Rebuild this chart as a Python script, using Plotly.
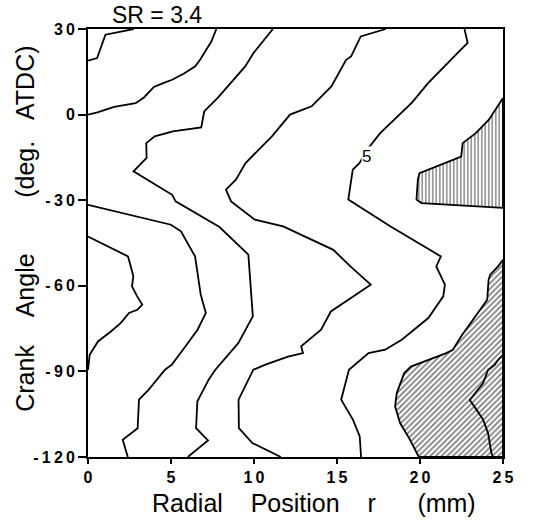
import plotly.graph_objects as go

# ---- data (r in mm, crank angle in deg ATDC) ----
c1_r = [0, 0.55, 1.05, 1.85, 2.75]
c1_a = [18.9, 19.8, 28, 28.9, 30]

c2_r = [0, 0.57, 1.57, 2.87, 3.37, 3.97, 4.57, 5.07, 5.76, 6.46, 6.75, 7.14, 7.44, 7.73]
c2_a = [0, 0.8, 2.7, 4.0, 6.0, 9.7, 11.1, 12.2, 14.3, 16.9, 19.2, 22.7, 25.7, 30]

c3_r = [11.14, 10.56, 9.97, 9.47, 8.59, 7.80, 7.0, 6.82, 5.11, 4.02, 3.51, 3.53, 2.74,
        5.07, 5.28, 7.92, 9.66, 9.93, 9.05, 7.66, 7.27, 6.59, 6.51, 7.23, 6.01]
c3_a = [30, 25.7, 21.6, 16.9, 11.1, 5.8, 1.1, -4.5, -5.9, -7.6, -10.0, -15.2, -19.9,
        -28.1, -30.4, -39.4, -49.1, -70.7, -80.1, -89.5, -92.9, -100.5, -109.9, -114.2, -120]

c4_r = [17.94, 16.43, 15.85, 15.55, 14.66, 13.47, 12.17, 11.08, 10.48, 9.49, 8.91,
        8.31, 8.62, 10.05, 11.76, 14.78, 15.81, 17.03, 16.13, 14.63, 14.04, 12.84,
        12.95, 12.05, 10.65, 9.96, 9.07, 9.09, 9.9, 11.62]
c4_a = [30, 27.4, 20.4, 19.2, 9.9, 2.9, 0, -7.6, -11.1, -17.0, -22.8,
        -26.3, -30.4, -36.8, -39.2, -47.4, -53.2, -59.6, -63.1, -69.0, -75.4, -81.2,
        -83.6, -84.8, -87.7, -89.4, -99.9, -109.9, -115.1, -120]

c5_r = [22.68, 22.87, 22.27, 21.87, 20.5, 19.5, 18.0, 17.6, 16.9, 16.35, 15.95, 15.85,
        15.68, 18.23, 21.26, 20.98, 21.5, 21.4, 20.5, 18.9, 17.9,
        16.9, 15.72, 15.25, 15.96, 16.37, 16.45]
c5_a = [30, 25.1, 21.6, 19.2, 11.1, 4.1, -4.1, -6.5, -11.7, -17.0, -19.3, -22.8,
        -29.8, -39.2, -49.7, -53.2, -59.6, -63.7, -71.3, -78.9, -82.4,
        -83.6, -89.4, -99.9, -106.9, -112.8, -120]

cl1_r = [0, 5.0, 5.6, 6.45, 6.57, 6.79, 7.1, 6.6, 5.72, 5.04, 4.64, 3.66, 3.07, 2.99, 2.09, 2.4]
cl1_a = [-31.6, -38.6, -40.9, -49.7, -54.4, -63.1, -69.5, -75.4, -82.4, -87.7, -89.4,
         -96.4, -99.9, -109.9, -114, -120]

cl2_r = [0, 2.41, 2.63, 2.73, 2.65, 2.96, 3.27, 2.97, 2.47, 1.98, 1.38, 0.6, 0.1, 0]
cl2_a = [-42.7, -49.7, -54.4, -56.7, -60.2, -63.7, -66.6, -68.4, -69.5, -73.0, -76.0,
         -79.5, -84.2, -89.5]

h1_r = [25, 24.15, 23.36, 22.57, 22.48, 20.57, 19.97, 19.87, 19.79, 20.09, 25]
h1_a = [5.8, -1.8, -6.5, -10.0, -14.7, -19.3, -20.5, -22.8, -29.8, -31.0, -32.7]

h2_r = [25, 24.7, 24.23, 24.13, 24.05, 22.88, 22.48, 21.98, 21.58, 19.45, 19.05,
        18.6, 18.5, 18.8, 19.4, 19.93]
h2_a = [-50.9, -53.2, -56.1, -57.9, -64.9, -74.2, -77.7, -82.4, -83.6, -88.3, -90.6,
        -97.6, -102.3, -108.1, -114.0, -120]

h3_r = [25, 24.7, 24.5, 24.1, 23.8, 23.0, 23.4, 23.8, 24.1, 24.3, 24.4]
h3_a = [-84.2, -86.0, -87.7, -89.5, -94.1, -100, -103.4, -106.9, -111.6, -118.6, -120]

label_r, label_a, label_text = 16.75, -14.6, "5"

x_ticks = [0, 5, 10, 15, 20, 25]
y_ticks = [30, 0, -30, -60, -90, -120]
R_MIN, R_MAX = 0, 25
A_MIN, A_MAX = -120, 30

TS = "\u2009"  # thin space used as letter spacing for tick labels
NB = "\u00a0"


def spaced(v):
    return TS.join(str(v))


fig = go.Figure()

LINE = dict(color="black", width=1.8)

# hatched regions
fig.add_trace(go.Scatter(
    x=h1_r + [h1_r[0]], y=h1_a + [h1_a[0]], mode="lines", fill="toself",
    fillcolor="white", line=LINE,
    fillpattern=dict(shape="|", fgcolor="black", bgcolor="white", size=3.5, solidity=0.4),
    hoverinfo="skip", showlegend=False))
fig.add_trace(go.Scatter(
    x=h2_r + [R_MAX, R_MAX], y=h2_a + [A_MIN, h2_a[0]], mode="lines", fill="toself",
    fillcolor="white", line=LINE,
    fillpattern=dict(shape="/", fgcolor="black", bgcolor="white", size=4, solidity=0.45),
    hoverinfo="skip", showlegend=False))

for xs, ys in [(c1_r, c1_a), (c2_r, c2_a), (c3_r, c3_a), (c4_r, c4_a), (c5_r, c5_a),
               (cl1_r, cl1_a), (cl2_r, cl2_a), (h3_r, h3_a)]:
    fig.add_trace(go.Scatter(x=xs, y=ys, mode="lines", line=LINE,
                             hoverinfo="skip", showlegend=False))

FONT = "Liberation Sans"
fig.add_annotation(x=label_r, y=label_a, text=label_text, showarrow=False,
                   font=dict(size=17, color="black", family=FONT),
                   bgcolor="white", borderpad=0)

# titles
fig.add_annotation(xref="paper", yref="paper", x=0.166, y=1.033,
                   xanchor="center", yanchor="middle", showarrow=False,
                   text="SR" + NB + "=" + NB + "3.4",
                   font=dict(size=23, family=FONT, color="black"))
fig.add_annotation(xref="paper", yref="paper", x=0.545, y=-0.107,
                   xanchor="center", yanchor="middle", showarrow=False,
                   text="Radial" + NB * 4 + "Position" + NB * 4 + "r" + NB * 6 + "(mm)",
                   font=dict(size=25, family=FONT, color="black"))
fig.add_annotation(xref="paper", yref="paper", x=-0.152, y=0.533,
                   xanchor="center", yanchor="middle", showarrow=False, textangle=-90,
                   text="Crank" + NB * 4 + "Angle" + NB * 8 + "(deg." + NB * 3 + "ATDC)",
                   font=dict(size=25, family=FONT, color="black"))

fig.update_layout(
    width=535, height=526,
    margin=dict(l=88, r=32, t=29, b=69),
    paper_bgcolor="white", plot_bgcolor="white",
    font=dict(family=FONT, color="black"),
    xaxis=dict(range=[R_MIN, R_MAX], tickvals=x_ticks, ticktext=[spaced(t) for t in x_ticks],
               showgrid=False, zeroline=False, showline=True, linecolor="black",
               linewidth=1.8, mirror=True, ticks="outside", ticklen=5, tickwidth=1.5,
               tickcolor="black", tickfont=dict(size=16, family=FONT, weight="bold"),
               automargin=False),
    yaxis=dict(range=[A_MIN, A_MAX], tickvals=y_ticks, ticktext=[spaced(t) for t in y_ticks],
               showgrid=False, zeroline=False, showline=True, linecolor="black",
               linewidth=1.8, mirror=True, ticks="outside", ticklen=8, tickwidth=1.5,
               tickcolor="black", tickfont=dict(size=16, family=FONT, weight="bold"),
               automargin=False),
)

fig.write_html("out.html", config={"displayModeBar": False},
               post_script="document.body.style.margin='0px';")
